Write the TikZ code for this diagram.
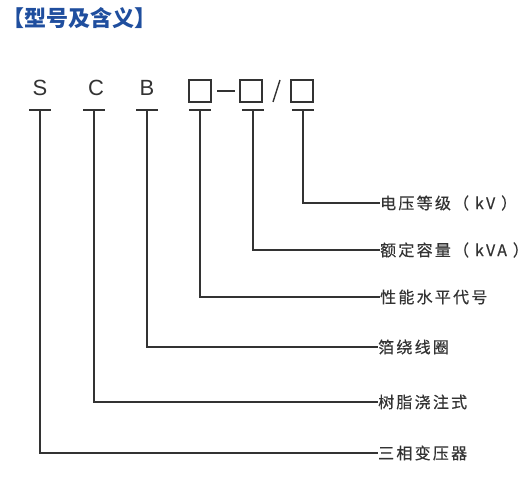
\documentclass[tikz,border=0pt]{standalone}
\usepackage{fontspec}
\setmainfont{Liberation Sans}
\newfontfamily\cjk[LetterSpace=14,FakeBold=0.4]{Noto Sans CJK SC}
\newfontfamily\cjktitle{Noto Sans CJK SC}
\definecolor{ink}{HTML}{333333}
\definecolor{titleblue}{HTML}{1F4E9E}
\begin{document}
\begin{tikzpicture}[x=1pt,y=-1pt,
  conn/.style={draw=ink,line width=1.4pt},
  letter/.style={inner sep=0pt,font=\fontsize{22}{22}\selectfont,text=ink},
  slot/.style={draw=ink,line width=1.3pt,minimum width=22pt,minimum height=22pt,inner sep=0pt},
  lbl/.style={anchor=west,inner sep=0pt,font=\fontsize{16}{16}\cjk,text=ink}]
\useasboundingbox (0,0) rectangle (528,481);
\node[anchor=west,inner sep=0pt,text=titleblue,font=\fontsize{22}{22}\cjktitle\bfseries] (title) at (2,18) {【型号及含义】};
% code letters
\node[letter] (S) at (40,88) {S};
\node[letter] (C) at (96,88) {C};
\node[letter] (B) at (147,88) {B};
\node[slot] (b1) at (200,91) {};
\node[slot] (b2) at (251,91) {};
\node[slot] (b3) at (302,91) {};
\coordinate (d1) at (217,91); \coordinate (d2) at (235,91);
\draw[conn] (d1) -- (d2);
\coordinate (s1) at (280,80); \coordinate (s2) at (273,102);
\draw[conn] (s1) -- (s2);
% tees
\foreach \n/\x in {tS/40,tC/94,tB/147,t1/200,t2/253,t3/303}{
  \coordinate (\n) at (\x,110);
  \draw[conn] ([xshift=-11pt]\n) -- ([xshift=11pt]\n);
}
% labels
\node[lbl] (l3) at (380,203) {电压等级（ kV ）};
\node[lbl] (l2) at (380,250) {额定容量（ kVA ）};
\node[lbl] (l1) at (380,297) {性能水平代号};
\node[lbl] (lB) at (378,347) {箔绕线圈};
\node[lbl] (lC) at (378,402) {树脂浇注式};
\node[lbl] (lS) at (378,453) {三相变压器};
\draw[conn] (t3) |- (l3.west);
\draw[conn] (t2) |- (l2.west);
\draw[conn] (t1) |- (l1.west);
\draw[conn] (tB) |- (lB.west);
\draw[conn] (tC) |- (lC.west);
\draw[conn] (tS) |- (lS.west);
\end{tikzpicture}
\end{document}
